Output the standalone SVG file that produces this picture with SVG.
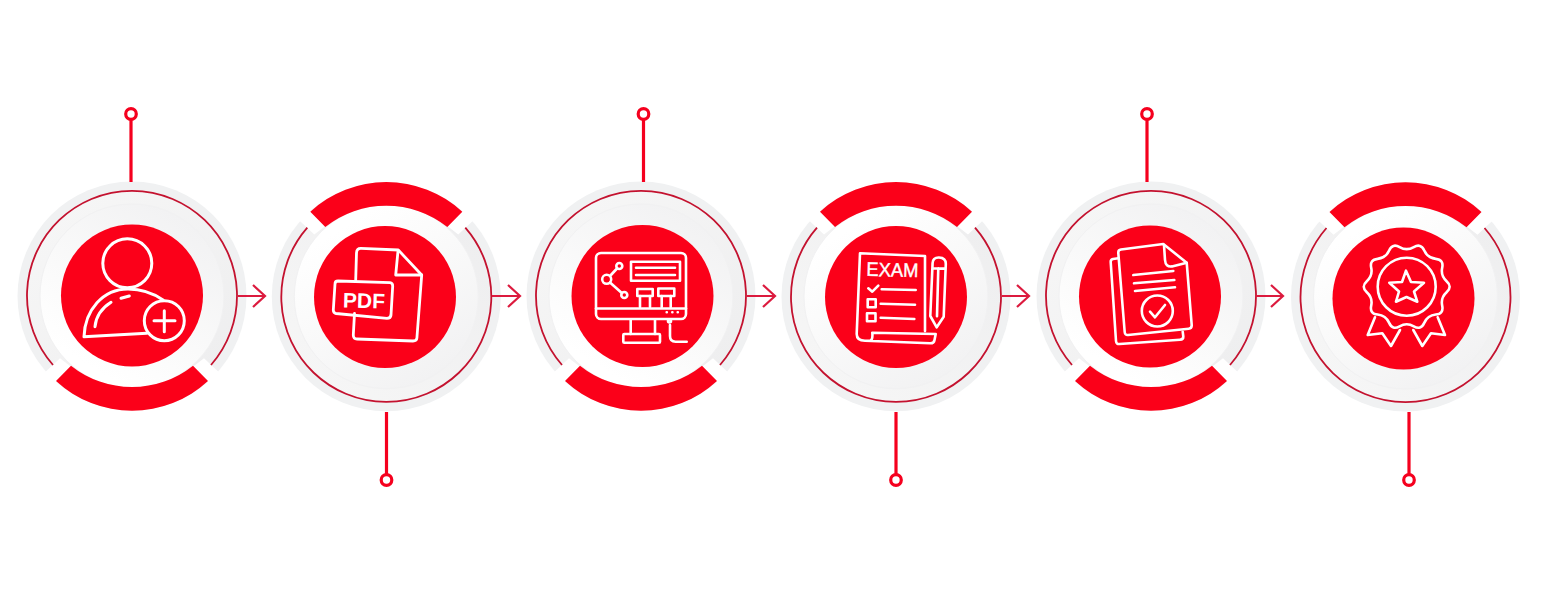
<svg xmlns="http://www.w3.org/2000/svg" width="1555" height="595" viewBox="0 0 1555 595">
<style>
.disc{fill:#fb0019}
.i{fill:none;stroke:#fff;stroke-width:2.600;stroke-linecap:round;stroke-linejoin:round}
.t{fill:#fff;font-family:"Liberation Sans",Arial,sans-serif}
.pin{fill:none;stroke:#f5001e;stroke-width:3.200}
.ar{fill:none;stroke:#dc1a3e;stroke-width:2.200}
</style>
<defs>
<linearGradient id="gr" x1="0.15" y1="0.1" x2="0.85" y2="0.9"><stop offset="0" stop-color="#f6f6f6"/><stop offset="1" stop-color="#eeeeef"/></linearGradient>
<linearGradient id="gd" x1="0.8" y1="0.1" x2="0.3" y2="0.9"><stop offset="0" stop-color="#f2f2f3"/><stop offset="0.6" stop-color="#fafafa"/><stop offset="1" stop-color="#ffffff"/></linearGradient>
<g id="base">
<circle r="114.5" fill="#f0f1f2"/>
<circle r="105" fill="url(#gr)"/>
<path d="M-92 81L-80 90L-61 70.700L-72 62.300Z" fill="#fff"/>
<path d="M92 81L80 90L61 70.700L72 62.300Z" fill="#fff"/>
<path d="M-79 69A105 105 0 1 1 79 69" fill="none" stroke="#c4122f" stroke-width="1.800"/>
<circle r="92" fill="url(#gd)" stroke="#f1f1f2" stroke-width="1"/>
<path d="M-76 85A112 112 0 0 0 76 85L61 69.700A98 98 0 0 1 -61 69.700Z" fill="#fb0019"/>
</g>
</defs>

<g id="node1">
<use href="#base" transform="translate(132 296)"/>
<circle class="disc" cx="132" cy="295.500" r="71"/>
<g class="i" style="stroke-width:3">
<circle cx="127.300" cy="263.300" r="24.500"/>
<path d="M163 300C153 293 141 289 128 289C103 289 85 310 84 336.700L146.700 333.300"/>
<circle cx="164.300" cy="320.700" r="20"/>
<path d="M154 320.700H175M164.300 310.700V331.700"/>
<path d="M95 326.700C96 316 102 308 111 302.300M121 298.300L129.300 296"/>
</g>
</g>

<g id="node2">
<use href="#base" transform="translate(386.300 296.700) scale(1 -1)"/>
<circle class="disc" cx="385" cy="297" r="71"/>
<g class="i" style="stroke-width:2.800">
<path d="M355.700 280L356.500 253Q356.700 248.300 361 248.400L398.300 250L421.700 275L416.900 338Q416.700 341 413 341L357 339Q353.300 339 353.300 335L354.500 313.500"/>
<path d="M398 251L395.700 275L421.700 275"/>
<path d="M338 281L390 282.700Q392.700 283 392.700 286L391 315Q390.700 318.300 387 318.300L336 313.500Q333.300 313 333.300 310L335 284Q335 281 338 281Z"/>
</g>
<text class="t" x="364" y="308" font-size="21" font-weight="700" text-anchor="middle" transform="rotate(1.500 364 300)">PDF</text>
</g>

<g id="node3">
<use href="#base" transform="translate(641 296)"/>
<circle class="disc" cx="642.500" cy="296" r="71"/>
<g class="i">
<rect x="596" y="253" width="90" height="66" rx="5"/>
<path d="M596 308.500H686"/>
<path d="M630.700 319.500V334M655 319.500V334"/>
<rect x="623.300" y="334" width="36.700" height="8.700" rx="1"/>
<path d="M670 325V336Q670 341.700 675.500 341.700H686.700"/>
<circle cx="669.500" cy="321" r="1.500"/>
<circle cx="606.700" cy="279.300" r="4.500"/><circle cx="619.300" cy="266" r="3"/><circle cx="624.300" cy="295" r="3"/>
<path d="M610 276L617 268.500M610 282.500L621.800 293"/>
<rect x="631" y="261.700" width="49" height="19"/>
<path d="M636 267.700H675M636 275H675"/>
<rect x="637.300" y="289" width="15.400" height="7"/><rect x="658.300" y="288.500" width="16" height="7.500"/>
<path d="M640 296V307M650 296V307M661.700 296V307M670.700 296V307"/>
<path d="M666.700 312.300h.1M672.300 312.300h.1M677.700 312.300h.1"/>
</g>
</g>

<g id="node4">
<use href="#base" transform="translate(896 296.700) scale(1 -1)"/>
<circle class="disc" cx="896" cy="297" r="71"/>
<g class="i">
<path d="M925 331V256L860 253.300L856.700 334Q856.700 340.700 865 340.700H870Q873 340 872.300 332.700L935.700 334L934.500 340Q934 343.500 930 343.300L865 340.700"/>
<path d="M868.300 288.300L872.300 291.700L878.300 285.700"/>
<path d="M881.700 289.300L915.700 290M880.700 303.700L915 304.700M880.700 317.700L914.300 319"/>
<rect x="867.700" y="299.300" width="8" height="8"/><rect x="867" y="313.300" width="8.500" height="8"/>
<path d="M930.300 316L932.600 263Q933 257.300 939 257.500Q946 257.800 945.800 264L943.700 316.700L936.700 327.300ZM932.400 268.200L945.600 268.600M938.300 268.400L937 316.300"/>
</g>
<text class="t" x="892.500" y="276.500" font-size="19.500" stroke="#fff" stroke-width="0.400" text-anchor="middle" textLength="52" lengthAdjust="spacingAndGlyphs" transform="rotate(1.500 892.500 270)">EXAM</text>
</g>

<g id="node5">
<use href="#base" transform="translate(1151 296)"/>
<circle class="disc" cx="1150" cy="296.500" r="71"/>
<g class="i">
<path d="M1163.300 244L1121 249.500Q1118 250 1118.300 253L1124.700 332Q1125 335.300 1128 335L1188.700 328.700Q1191.900 328.300 1191.700 325L1186.700 262.700Z"/>
<path d="M1164 245L1165 260Q1165.500 267.200 1172 266.400L1186.700 262.700"/>
<path d="M1118.300 258.300L1113 259Q1110.500 259.500 1110.700 262L1116 341Q1116.300 344.300 1119.500 344L1180 339.800Q1183.500 339.500 1183.300 336.500L1182.700 331.700"/>
<path d="M1133.300 275L1173.300 271M1134 283.300L1174.300 280M1135 291L1175 287.300"/>
<circle cx="1157.300" cy="311" r="15.500"/>
<path d="M1150 311.700L1155 317.300L1165 305"/>
</g>
</g>

<g id="node6">
<use href="#base" transform="translate(1405.500 297) scale(1 -1)"/>
<circle class="disc" cx="1403.500" cy="298.500" r="71"/>
<g class="i">
<path transform="translate(1406.700 286.700)" d="M-7.100 -39.600Q0 -35.500 7.100 -39.600Q14.200 -43.700 17.550 -36.200Q20.900 -28.700 29.050 -27.850Q37.200 -27 35.500 -19Q33.800 -11 39.900 -5.500Q46 0 39.900 5.500Q33.800 11 35.500 19Q37.200 27 29.050 27.850Q20.900 28.700 17.550 36.200Q14.200 43.700 7.100 39.600Q0 35.500 -7.100 39.600Q-14.200 43.700 -17.550 36.200Q-20.900 28.700 -29.050 27.850Q-37.200 27 -35.500 19Q-33.800 11 -39.900 5.500Q-46 0 -39.900 -5.500Q-33.800 -11 -35.500 -19Q-37.200 -27 -29.050 -27.850Q-20.900 -28.700 -17.550 -36.200Q-14.200 -43.700 -7.100 -39.600Z"/>
<circle cx="1406.700" cy="286.700" r="29"/>
<path d="M1406 270.700L1411 282L1424 282.700L1414 291.500L1417.300 301.700L1406.500 297L1396 301.700L1399 291.500L1389.300 282.700L1402 282Z"/>
<path d="M1375 317.300L1367.700 335L1382.300 333.300L1391 346L1400 330"/>
<path d="M1437.700 317.300L1445 335L1431 333.300L1422.300 346L1413.300 330"/>
</g>
</g>

<g id="connectors">
<g class="pin">
<path d="M131 119V182"/><circle cx="131" cy="114" r="5.300"/>
<path d="M643.500 119V182"/><circle cx="643.500" cy="114" r="5.300"/>
<path d="M1147 119V182"/><circle cx="1147" cy="114" r="5.300"/>
<path d="M386.500 412V475"/><circle cx="386.500" cy="480" r="5.300"/>
<path d="M896 412V475"/><circle cx="896" cy="480" r="5.300"/>
<path d="M1409 412V475"/><circle cx="1409" cy="480" r="5.300"/>
</g>
<g class="ar">
<path d="M238 296H265M253 285L265 296L253 307"/>
<path d="M492 296H520M508 285L520 296L508 307"/>
<path d="M747 296H775M763 285L775 296L763 307"/>
<path d="M1002 296H1029M1017 285L1029 296L1017 307"/>
<path d="M1256 296H1283M1271 285L1283 296L1271 307"/>
</g>
</g>
</svg>
